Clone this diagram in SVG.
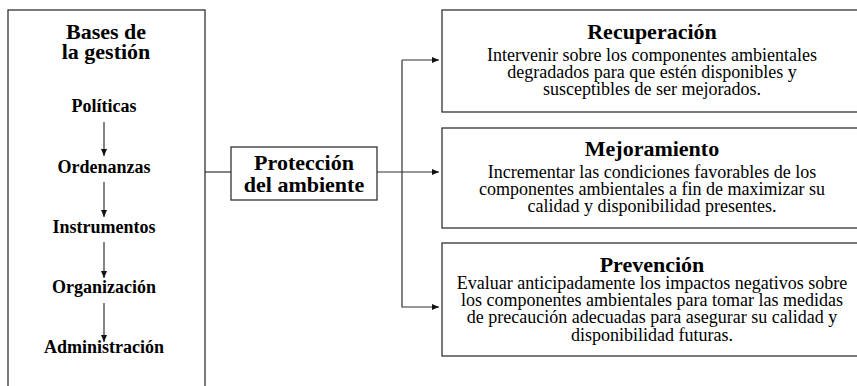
<svg xmlns="http://www.w3.org/2000/svg" width="857" height="386" viewBox="0 0 857 386">
<style>
.box{fill:#fff;stroke:#333;stroke-width:1.3}
.ln{fill:none;stroke:#333;stroke-width:1.2}
text{font-family:'Liberation Serif','Times New Roman',serif;fill:#000;text-anchor:middle}
.h{font-weight:bold;font-size:22px}
.s{font-weight:bold;font-size:18px}
.b{font-size:18px}
</style>
<defs>
<marker id="ah" markerWidth="8" markerHeight="6" refX="7" refY="3" orient="auto" markerUnits="userSpaceOnUse">
<path d="M0,0 L7,3 L0,6 Z" fill="#111"/>
</marker>
</defs>
<rect width="857" height="386" fill="#fff"/>
<g id="bases">
<rect class="box" x="8" y="10" width="197" height="390"/>
<text class="h" x="106" y="39">Bases de</text>
<text class="h" x="106" y="59">la gestión</text>
<text class="s" x="104" y="112">Políticas</text>
<text class="s" x="104" y="173">Ordenanzas</text>
<text class="s" x="104" y="233">Instrumentos</text>
<text class="s" x="104" y="293">Organización</text>
<text class="s" x="104" y="353">Administración</text>
</g>
<g id="proteccion">
<rect class="box" x="231" y="147" width="146" height="53"/>
<text class="h" x="304" y="170">Protección</text>
<text class="h" x="304" y="192">del ambiente</text>
</g>
<g id="recuperacion">
<rect class="box" x="442" y="10" width="420" height="102"/>
<text class="h" x="652" y="39">Recuperación</text>
<text class="b" x="652" y="61">Intervenir sobre los componentes ambientales</text>
<text class="b" x="652" y="78">degradados para que estén disponibles y</text>
<text class="b" x="652" y="95">susceptibles de ser mejorados.</text>
</g>
<g id="mejoramiento">
<rect class="box" x="442" y="128" width="420" height="100"/>
<text class="h" x="652" y="156">Mejoramiento</text>
<text class="b" x="652" y="178">Incrementar las condiciones favorables de los</text>
<text class="b" x="652" y="195">componentes ambientales a fin de maximizar su</text>
<text class="b" x="652" y="212">calidad y disponibilidad presentes.</text>
</g>
<g id="prevencion">
<rect class="box" x="442" y="243" width="420" height="113"/>
<text class="h" x="652" y="272">Prevención</text>
<text class="b" x="652" y="289">Evaluar anticipadamente los impactos negativos sobre</text>
<text class="b" x="652" y="306">los componentes ambientales para tomar las medidas</text>
<text class="b" x="652" y="323">de precaución adecuadas para asegurar su calidad y</text>
<text class="b" x="652" y="341">disponibilidad futuras.</text>
</g>
<g id="connectors">
<path class="ln" d="M104,122 V156" marker-end="url(#ah)"/>
<path class="ln" d="M104,182 V217" marker-end="url(#ah)"/>
<path class="ln" d="M104,242 V278" marker-end="url(#ah)"/>
<path class="ln" d="M104,303 V342" marker-end="url(#ah)"/>
<path class="ln" d="M205,172 H231"/>
<path class="ln" d="M377,172 H439" marker-end="url(#ah)"/>
<path class="ln" d="M402,60 H439" marker-end="url(#ah)"/>
<path class="ln" d="M402,60 V307 H439" marker-end="url(#ah)"/>
</g>
</svg>
